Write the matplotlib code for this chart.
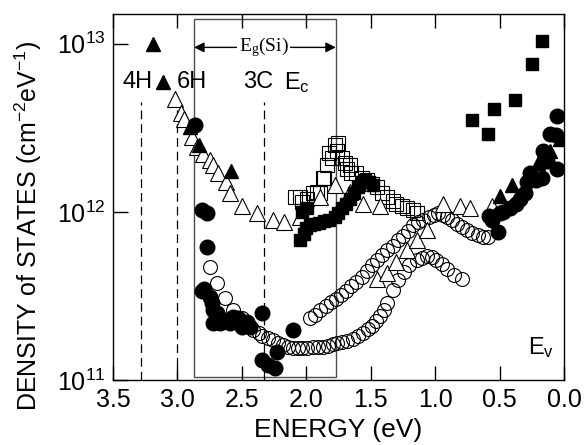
import numpy as np
import matplotlib
matplotlib.use("Agg")
import matplotlib.pyplot as plt
from matplotlib.patches import Rectangle
import matplotlib.transforms as mtransforms

plt.rcParams['font.family'] = ['Liberation Sans', 'DejaVu Sans']
plt.rcParams['mathtext.default'] = 'regular'

# open triangles (upper branch)
tri_open_e = [3.02, 2.97, 2.95, 2.89, 2.85, 2.80, 2.75, 2.72, 2.685, 2.62, 2.59, 2.50, 2.38,
              2.26, 2.17, 2.05, 1.89, 1.78, 1.66, 1.56, 1.43, 0.94, 0.81, 0.73, 0.56]
tri_open_d = [4.66e12, 3.85e12, 3.54e12, 2.77e12, 2.42e12, 2.2e12, 2.02e12, 1.89e12, 1.71e12,
              1.5e12, 1.29e12, 1.09e12, 0.98e12, 0.89e12, 0.87e12, 0.93e12, 1.22e12, 1.44e12,
              1.31e12, 1.12e12, 1.09e12, 1.12e12, 1.09e12, 1.05e12, 1.09e12]
# open triangles (lower branch)
tri_open2_e = [1.45, 1.37, 1.30, 1.22, 1.14, 1.06]
tri_open2_d = [4.0e11, 4.3e11, 5.0e11, 5.9e11, 6.8e11, 7.8e11]

# filled triangles
tri_fill_e = [3.19, 3.11, 2.90, 2.83, 2.58, 0.50, 0.40, 0.20, 0.11, 0.03]
tri_fill_d = [1.0e13, 5.9e12, 3.2e12, 2.48e12, 1.74e12, 1.25e12, 1.44e12, 1.94e12, 2.3e12, 2.7e12]

# filled circles
circ_fill_e = [2.86, 2.81, 2.77, 2.77, 2.81, 2.79, 2.75, 2.73, 2.72, 2.69, 2.72, 2.67, 2.62,
               2.59, 2.57, 2.53, 2.50, 2.46, 2.44, 2.34, 2.34, 2.30, 2.24, 2.23, 2.10,
               0.58, 0.56, 0.51, 0.50, 0.47, 0.42, 0.37, 0.34, 0.30, 0.29, 0.26, 0.22,
               0.17, 0.16, 0.13, 0.11, 0.06, 0.05, 0.05]
circ_fill_d = [3.3e12, 1.02e12, 9.8e11, 6.2e11, 3.4e11, 3.5e11, 3.1e11, 2.87e11, 2.6e11, 2.5e11,
               2.18e11, 2.18e11, 2.27e11, 2.18e11, 2.37e11, 2.33e11, 2.06e11, 2.21e11, 2.06e11,
               2.5e11, 1.32e11, 1.23e11, 1.18e11, 1.47e11, 1.98e11,
               9.5e11, 9.0e11, 7.6e11, 9.8e11, 1.0e12, 1.05e12, 1.12e12, 1.2e12, 1.3e12, 1.5e12,
               1.7e12, 1.55e12, 1.6e12, 2.3e12, 2.0e12, 2.9e12, 2.85e12, 1.8e12, 3.7e12]

# open circles, upper curve
circ_open1_e = [1.97, 1.93, 1.89, 1.85, 1.81, 1.77, 1.73, 1.69, 1.65, 1.61, 1.57, 1.53, 1.49,
                1.45, 1.41, 1.37, 1.33, 1.29, 1.25, 1.21, 1.17, 1.13, 1.09, 1.05, 1.01, 0.98,
                0.94, 0.91, 0.87, 0.83, 0.79, 0.75, 0.71, 0.67, 0.63, 0.59]
circ_open1_d = [2.35e11, 2.45e11, 2.6e11, 2.75e11, 2.9e11, 3.05e11, 3.2e11, 3.4e11, 3.6e11,
                3.85e11, 4.1e11, 4.45e11, 4.85e11, 5.2e11, 5.55e11, 5.9e11, 6.3e11, 6.8e11,
                7.2e11, 7.7e11, 8.3e11, 8.7e11, 9.0e11, 9.3e11, 9.6e11, 9.8e11, 9.6e11,
                9.3e11, 8.9e11, 8.5e11, 8.1e11, 7.8e11, 7.5e11, 7.3e11, 7.1e11, 7.05e11]

# open circles, lower curve
circ_open2_e = [2.75, 2.69, 2.63, 2.57, 2.50, 2.45, 2.41, 2.37, 2.34, 2.30, 2.26, 2.22, 2.18,
                2.14, 2.10, 2.06, 2.03, 1.99, 1.95, 1.91, 1.87, 1.83, 1.79, 1.76, 1.72, 1.68,
                1.64, 1.60, 1.56, 1.52, 1.49, 1.46, 1.43, 1.40, 1.37, 1.33, 1.29, 1.24, 1.20,
                1.14, 1.10, 1.06, 1.02, 0.99, 0.95, 0.91, 0.85, 0.79]
circ_open2_d = [4.7e11, 3.77e11, 3.07e11, 2.6e11, 2.33e11, 2.15e11, 1.98e11, 1.9e11, 1.82e11,
                1.78e11, 1.73e11, 1.66e11, 1.61e11, 1.58e11, 1.55e11, 1.55e11, 1.55e11,
                1.56e11, 1.57e11, 1.57e11, 1.58e11, 1.6e11, 1.64e11, 1.66e11, 1.68e11, 1.71e11,
                1.75e11, 1.82e11, 1.9e11, 2.0e11, 2.09e11, 2.25e11, 2.4e11, 2.6e11, 2.87e11,
                3.42e11, 3.92e11, 4.37e11, 4.8e11, 5.15e11, 5.35e11, 5.5e11, 5.4e11, 5.15e11,
                4.9e11, 4.6e11, 4.2e11, 4.0e11]

# filled squares
sq_fill_e = [2.05, 2.02, 2.03, 1.99, 2.00, 1.97, 1.94, 1.90, 1.86, 1.82, 1.78, 1.75, 1.72,
             1.69, 1.66, 1.63, 1.60, 1.57, 1.54, 1.51, 1.48,
             0.71, 0.59, 0.54, 0.38, 0.25, 0.17]
sq_fill_d = [6.8e11, 7.4e11, 1.0e12, 1.05e12, 8.0e11, 8.3e11, 8.5e11, 8.6e11, 8.8e11, 9.0e11,
             9.3e11, 9.8e11, 1.05e12, 1.12e12, 1.2e12, 1.3e12, 1.4e12, 1.5e12, 1.55e12,
             1.5e12, 1.45e12,
             3.5e12, 2.9e12, 4.1e12, 4.6e12, 7.6e12, 1.04e13]

# open squares
sq_open_e = [2.09, 2.05, 2.03, 1.99, 1.95, 1.92, 1.89, 1.87, 1.86, 1.84, 1.82, 1.80, 1.78,
             1.76, 1.75, 1.72, 1.70, 1.68, 1.66, 1.65, 1.61, 1.57, 1.53, 1.49, 1.45, 1.41,
             1.37, 1.33, 1.30, 1.26, 1.22, 1.17, 1.14]
sq_open_d = [1.22e12, 1.22e12, 1.14e12, 1.2e12, 1.29e12, 1.31e12, 1.29e12, 1.6e12, 1.6e12,
             1.9e12, 2.25e12, 2.1e12, 2.48e12, 2.3e12, 2.55e12, 2.1e12, 1.94e12, 1.8e12,
             1.89e12, 1.71e12, 1.71e12, 1.6e12, 1.54e12, 1.47e12, 1.40e12, 1.3e12, 1.22e12,
             1.16e12, 1.12e12, 1.09e12, 1.06e12, 1.02e12, 0.99e12]

x_ticks = [3.5, 3.0, 2.5, 2.0, 1.5, 1.0, 0.5, 0.0]
y_ticks = [1e11, 1e12, 1e13]
y_ticklabels = ['10$^{11}$', '10$^{12}$', '10$^{13}$']

fig = plt.figure(figsize=(5.85, 4.45), dpi=100)
ax = fig.add_axes([0.193, 0.146, 0.771, 0.8225])

ax.set_yscale('log')
ax.set_xlim(3.5, 0.0)
ax.set_ylim(1e11, 1.5e13)

# reference lines for band gaps
trans = mtransforms.blended_transform_factory(ax.transData, ax.transAxes)
for e in [3.28, 3.0, 2.33]:
    ax.plot([e, e], [1e11, 4.5e12], color='k', lw=0.9, ls=(0, (7, 4)))

# Si band gap box
ax.add_patch(Rectangle((1.77, 0.008), 2.87 - 1.77, 0.978, transform=trans,
                       fill=False, edgecolor='0.3', lw=1.0))

# data
ax.plot(sq_open_e, sq_open_d, 's', ms=9.5, mfc='none', mec='k', mew=0.8)
ax.plot(circ_open1_e, circ_open1_d, 'o', ms=10, mfc='none', mec='k', mew=0.8)
ax.plot(circ_open2_e, circ_open2_d, 'o', ms=10, mfc='none', mec='k', mew=0.8)
ax.plot(tri_open_e, tri_open_d, '^', ms=11, mfc='white', mec='k', mew=0.8)
ax.plot(tri_open2_e, tri_open2_d, '^', ms=11, mfc='white', mec='k', mew=0.8)
ax.plot(sq_fill_e, sq_fill_d, 's', ms=8.5, mfc='k', mec='k')
ax.plot(circ_fill_e, circ_fill_d, 'o', ms=10.5, mfc='k', mec='k')
ax.plot(tri_fill_e, tri_fill_d, '^', ms=10, mfc='k', mec='k')

# labels
lab_fs = 17
ax.text(3.31, 5.9e12, '4H', ha='center', va='center', fontsize=lab_fs)
ax.text(2.89, 5.9e12, '6H', ha='center', va='center', fontsize=lab_fs)
ax.text(2.375, 5.9e12, '3C', ha='center', va='center', fontsize=lab_fs)
ax.text(2.07, 5.9e12, 'E$_c$', ha='center', va='center', fontsize=lab_fs)
ax.text(0.18, 1.57e11, 'E$_v$', ha='center', va='center', fontsize=lab_fs)

ax.annotate('', xy=(2.87, 9.5e12), xytext=(1.77, 9.5e12),
            arrowprops=dict(arrowstyle='<|-|>', color='k', lw=1.0,
                            mutation_scale=15, shrinkA=0, shrinkB=0))
ax.text(2.33, 9.5e12, 'E$_g$(Si)', ha='center', va='center', fontsize=14,
        family=['Liberation Serif', 'DejaVu Serif'],
        bbox=dict(facecolor='white', edgecolor='none', pad=1))

ax.set_xticks(x_ticks)
ax.set_xticklabels(['%.1f' % v for v in x_ticks])
ax.set_yticks(y_ticks)
ax.set_yticklabels(y_ticklabels)
ax.minorticks_off()
ax.tick_params(direction='in', length=10, width=1.0, labelsize=18, top=True, right=False,
               pad=6)
ax.tick_params(axis='y', length=11, pad=5)
for s in ax.spines.values():
    s.set_linewidth(1.0)

ax.set_xlabel('ENERGY (eV)', fontsize=19, labelpad=4)
ax.set_ylabel('DENSITY of STATES (cm$^{-2}$eV$^{-1}$)', fontsize=18)
ax.yaxis.set_label_coords(-0.152, 0.42)

fig.savefig('out.png', dpi=100)
